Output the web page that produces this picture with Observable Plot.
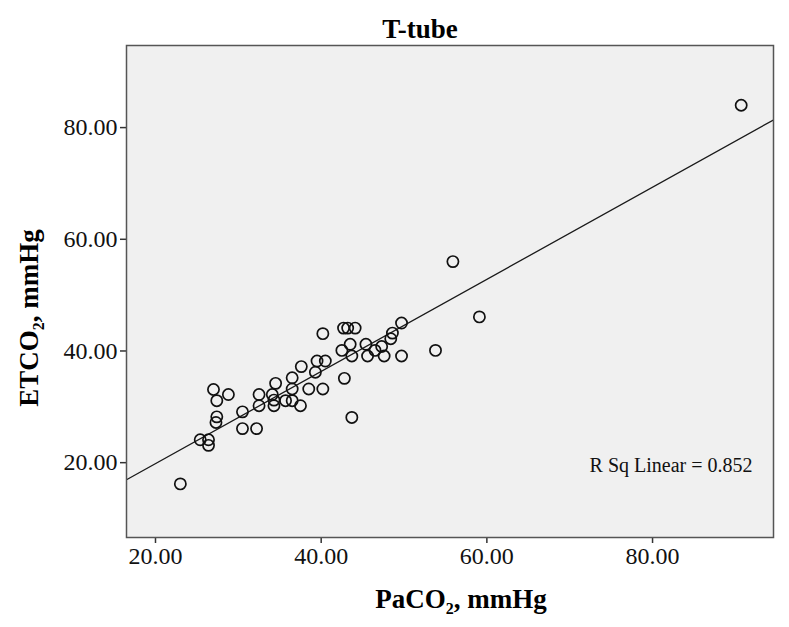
<!DOCTYPE html>
<html>
<head>
<meta charset="utf-8">
<script src="https://cdn.jsdelivr.net/npm/d3@7"></script>
<script src="https://cdn.jsdelivr.net/npm/@observablehq/plot@0.6"></script>
<style>
  html, body { margin: 0; padding: 0; background: #fff; }
  #chart { width: 789px; height: 627px; }
  svg text.ticklab { font-size: 24px !important; }
  svg text.rsqlab { font-size: 20px !important; }
</style>
</head>
<body>
<div id="chart"></div>
<script>
// ---- data ----
const paco2 = [23.0, 25.4, 26.4, 26.4, 27.0, 27.4, 28.8, 27.4, 27.3, 30.5, 30.5, 32.2, 32.5, 32.5, 34.1, 34.3, 34.5, 34.3,
  35.7, 36.5, 36.5, 36.5, 37.5, 37.6, 38.5, 39.3, 39.5, 40.5, 40.2, 40.2, 42.5, 42.8, 43.7, 42.7, 43.2, 44.1, 43.5, 43.7,
  45.4, 45.6, 46.5, 47.3, 47.6, 48.4, 48.6, 49.7, 49.7, 53.8, 55.9, 59.1, 90.7];
const etco2 = [16.2, 24.1, 24.1, 23.1, 33.1, 31.1, 32.2, 28.2, 27.2, 29.1, 26.1, 26.1, 32.2, 30.2, 32.2, 30.2, 34.2, 31.2,
  31.1, 31.1, 33.2, 35.2, 30.2, 37.2, 33.2, 36.2, 38.2, 38.2, 33.2, 43.1, 40.1, 35.1, 28.1, 44.1, 44.1, 44.1, 41.2, 39.1,
  41.2, 39.1, 40.1, 40.8, 39.1, 42.2, 43.2, 45.0, 39.1, 40.1, 56.0, 46.1, 84.0];
const xTicks = [20, 40, 60, 80];
const yTicks = [20, 40, 60, 80];
const xDomain = [16.5, 94.6];
const yDomain = [6.6, 94.7];
const titleText = "T-tube";
const rsqText = "R Sq Linear = 0.852";

const points = paco2.map((x, i) => ({x, y: etco2[i]}));

// least-squares fit, drawn across the whole x range
const mx = d3.mean(paco2), my = d3.mean(etco2);
const slope = d3.sum(points, d => (d.x - mx) * (d.y - my)) / d3.sum(points, d => (d.x - mx) ** 2);
const intercept = my - slope * mx;
const fitLine = xDomain.map(x => ({x, y: intercept + slope * x}));

const fmt = d3.format(".2f");
const serif = "'Liberation Serif', 'DejaVu Serif', serif";

const chart = Plot.plot({
  width: 789,
  height: 627,
  marginLeft: 126,
  marginRight: 16,
  marginTop: 45,
  marginBottom: 90,
  style: {fontFamily: serif, fontSize: "20px", color: "#111", background: "#fff"},
  x: {domain: xDomain, ticks: xTicks, tickFormat: fmt, label: null},
  y: {domain: yDomain, ticks: yTicks, tickFormat: fmt, label: null},
  marks: [
    Plot.frame({fill: "#f0f0f0"}),
    Plot.axisX({ticks: xTicks, tickFormat: fmt, tickSize: 6, tickPadding: 3, stroke: "#333", strokeWidth: 1.5, fill: "#111"}),
    Plot.axisY({ticks: yTicks, tickFormat: fmt, tickSize: 6, tickPadding: 3, stroke: "#333", strokeWidth: 1.5, fill: "#111"}),
    Plot.line(fitLine, {x: "x", y: "y", stroke: "#1a1a1a", strokeWidth: 1.3, clip: true}),
    Plot.dot(points, {x: "x", y: "y", r: 5.6, stroke: "#111", strokeWidth: 1.7, fill: "none"}),
    Plot.text([rsqText], {frameAnchor: "bottom-right", dx: -21, dy: -66, text: d => d, fill: "#111"}),
    Plot.frame({stroke: "#555", strokeWidth: 1.5})
  ]
});

document.getElementById("chart").appendChild(chart);

const svg = d3.select(chart);

// tick labels and the R Sq label
let rsqNode = null;
chart.querySelectorAll("text").forEach(t => {
  const s = t.textContent;
  if (/^\d+\.00$/.test(s)) {
    t.classList.add("ticklab");
  } else if (s === rsqText) {
    t.classList.add("rsqlab");
    rsqNode = t;
  }
});

// box behind the R Sq label
if (rsqNode) {
  const bb = rsqNode.getBBox();
  d3.select(rsqNode.parentNode).insert("rect", "text")
    .attr("x", bb.x - 5).attr("y", bb.y - 5)
    .attr("width", bb.width + 10).attr("height", bb.height + 10)
    .attr("fill", "#e9e9e9");
}

// title
svg.append("text")
  .attr("x", 420).attr("y", 38)
  .attr("text-anchor", "middle")
  .attr("font-family", serif).attr("font-weight", "bold")
  .style("font-size", "27px")
  .attr("fill", "#000")
  .text(titleText);

// x axis title with subscript
const xt = svg.append("text")
  .attr("x", 461).attr("y", 608)
  .attr("text-anchor", "middle")
  .attr("font-family", serif).attr("font-weight", "bold")
  .style("font-size", "27px")
  .attr("fill", "#000");
xt.append("tspan").text("PaCO");
xt.append("tspan").style("font-size", "16px").attr("dy", 6).text("2");
xt.append("tspan").attr("dy", -6).text(", mmHg");

// y axis title with subscript
const yt = svg.append("text")
  .attr("transform", "translate(38,318) rotate(-90)")
  .attr("text-anchor", "middle")
  .attr("font-family", serif).attr("font-weight", "bold")
  .style("font-size", "27px")
  .attr("fill", "#000");
yt.append("tspan").text("ETCO");
yt.append("tspan").style("font-size", "16px").attr("dy", 6).text("2");
yt.append("tspan").attr("dy", -6).text(", mmHg");
</script>
</body>
</html>
